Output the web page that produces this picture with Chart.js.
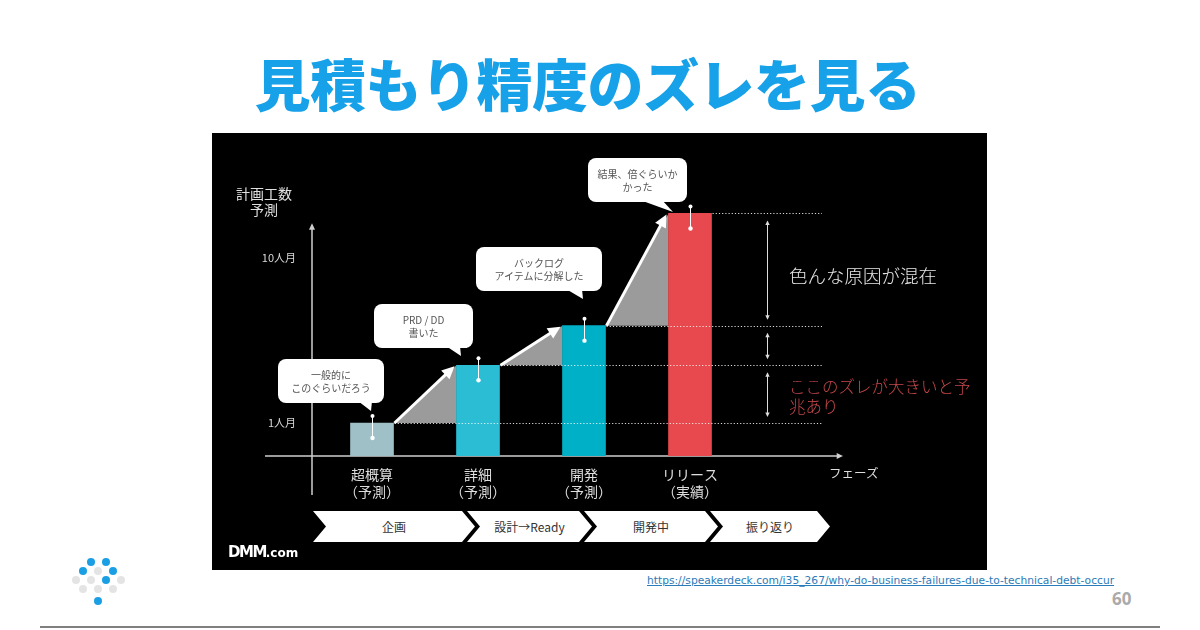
<!DOCTYPE html>
<html lang="ja">
<head>
<meta charset="utf-8">
<script src="https://cdn.jsdelivr.net/npm/chart.js@4.4.1/dist/chart.umd.min.js"></script>
<style>
  html, body { margin: 0; padding: 0; }
  body { width: 1200px; height: 630px; background: #ffffff; position: relative; overflow: hidden;
         font-family: "Noto Sans CJK JP", "Noto Sans", sans-serif; }
  #title { position: absolute; left: 0; width: 1175px; top: 44px; text-align: center;
           font-size: 56px; font-weight: 900; color: #17a1e8; letter-spacing: -0.5px; line-height: 76px; }
  #panel { position: absolute; left: 212px; top: 133px; width: 775px; height: 437px; background: #000; overflow: hidden; }
  #panel canvas { position: absolute; left: 0; top: 0; }
  #deco { position: absolute; left: 0; top: 0; }
  .txt { position: absolute; white-space: nowrap; }
  .bubble { position: absolute; display: flex; align-items: center; justify-content: center; text-align: center;
            font-size: 10px; line-height: 13px; color: #555; }
  .chev { position: absolute; top: 378px; height: 31px; background: #fff; display: flex; align-items: center; justify-content: center;
          font-size: 12px; color: #333; }
  #url { position: absolute; left: 647px; top: 574px; font-family: "DejaVu Sans", sans-serif; font-size: 10.7px; color: #2b7bb9; text-decoration: underline; }
  #page { position: absolute; left: 1112px; top: 587px; font-size: 17px; font-weight: 700; color: #aaaaaa; font-family: "Open Sans", sans-serif; }
  #rule { position: absolute; left: 40px; top: 626px; width: 1120px; height: 2px; background: #7f7f7f; }
  .dot { position: absolute; width: 8px; height: 8px; border-radius: 50%; }
</style>
</head>
<body>
<div id="title">見積もり精度のズレを見る</div>

<div id="panel">
  <canvas id="chart" width="775" height="437"></canvas>
  <svg id="deco" width="775" height="437"></svg>
  <div id="overlay"></div>
</div>

<div id="url">https://speakerdeck.com/i35_267/why-do-business-failures-due-to-technical-debt-occur</div>
<div id="page">60</div>
<div id="rule"></div>
<div id="logo"></div>

<script>
// ---------------- data ----------------
const categories = [["超概算", "（予測）"], ["詳細", "（予測）"], ["開発", "（予測）"], ["リリース", "（実績）"]];
const effortValues = [1.0, 2.75, 3.95, 7.35];          // 人月
const yTickValues = [1, 6];
const yTickLabels = ["1人月", "10人月"];
const yAxisTitle = ["計画工数", "予測"];
const xAxisTitle = "フェーズ";
const phases = ["企画", "設計→Ready", "開発中", "振り返り"];
const calloutTexts = [["一般的に", "このぐらいだろう"], ["PRD / DD", "書いた"], ["バックログ", "アイテムに分解した"], ["結果、倍ぐらいか", "かった"]];
const noteGap = "色んな原因が混在";
const noteWarn = ["ここのズレが大きいと予", "兆あり"];

// ---------------- styles ----------------
const barColors = ["#9fc0c7", "#2bbdd4", "#00b0c7", "#e8494e"];
const FONT = '"Noto Sans CJK JP", "Noto Sans", sans-serif';

function arrowHead(ctx, x1, y1, x2, y2, size) {
  const a = Math.atan2(y2 - y1, x2 - x1);
  ctx.beginPath();
  ctx.moveTo(x2, y2);
  ctx.lineTo(x2 - size * Math.cos(a - 0.45), y2 - size * Math.sin(a - 0.45));
  ctx.lineTo(x2 - size * Math.cos(a + 0.45), y2 - size * Math.sin(a + 0.45));
  ctx.closePath();
  ctx.fill();
}

const decoPlugin = {
  id: 'deco',
  beforeDatasetsDraw(chart) {
    const ctx = chart.ctx, ca = chart.chartArea, meta = chart.getDatasetMeta(0);
    ctx.save();
    // axes
    ctx.strokeStyle = '#cfcfcf'; ctx.fillStyle = '#cfcfcf'; ctx.lineWidth = 1.5;
    const ax = ca.left - 7;
    const yTop = chart.scales.y.getPixelForValue(7.05);
    ctx.beginPath(); ctx.moveTo(ax, ca.bottom + 39); ctx.lineTo(ax, yTop + 5); ctx.stroke();
    arrowHead(ctx, ax, ca.bottom, ax, yTop, 7);
    ctx.beginPath(); ctx.moveTo(ca.left - 54, ca.bottom); ctx.lineTo(ca.right + 94, ca.bottom); ctx.stroke();
    arrowHead(ctx, ca.left, ca.bottom, ca.right + 100, ca.bottom, 7);
    // gray step triangles
    ctx.fillStyle = '#9b9b9b';
    for (let i = 0; i < meta.data.length - 1; i++) {
      const a = meta.data[i], b = meta.data[i + 1];
      const ar = a.x + a.width / 2, bl = b.x - b.width / 2;
      ctx.beginPath();
      ctx.moveTo(ar, a.y); ctx.lineTo(bl, b.y); ctx.lineTo(bl, a.y); ctx.closePath(); ctx.fill();
    }
    ctx.restore();
  },
  afterDatasetsDraw(chart) {
    const ctx = chart.ctx, ca = chart.chartArea, meta = chart.getDatasetMeta(0);
    ctx.save();
    // dotted level lines
    ctx.strokeStyle = 'rgba(255,255,255,0.85)'; ctx.lineWidth = 1; ctx.setLineDash([1.2, 2]);
    meta.data.forEach(b => {
      ctx.beginPath(); ctx.moveTo(b.x + b.width / 2 + 1, Math.round(b.y) + 0.5); ctx.lineTo(ca.right + 79, Math.round(b.y) + 0.5); ctx.stroke();
    });
    ctx.setLineDash([]);
    // white arrows along the steps
    ctx.strokeStyle = '#ffffff'; ctx.fillStyle = '#ffffff'; ctx.lineWidth = 3;
    for (let i = 0; i < meta.data.length - 1; i++) {
      const a = meta.data[i], b = meta.data[i + 1];
      const x1 = a.x + a.width / 2 + 1, y1 = a.y, x2 = b.x - b.width / 2 - 2, y2 = b.y + 1;
      const ang = Math.atan2(y2 - y1, x2 - x1);
      ctx.beginPath(); ctx.moveTo(x1, y1); ctx.lineTo(x2 - 9 * Math.cos(ang), y2 - 9 * Math.sin(ang)); ctx.stroke();
      arrowHead(ctx, x1, y1, x2, y2, 14);
    }
    // pins on each bar
    ctx.lineWidth = 1;
    meta.data.forEach(b => {
      const x = Math.round(b.x) + 0.5;
      ctx.beginPath(); ctx.moveTo(x, b.y - 7); ctx.lineTo(x, b.y + 15); ctx.stroke();
      ctx.beginPath(); ctx.arc(x, b.y - 7, 2, 0, Math.PI * 2); ctx.fill();
      ctx.beginPath(); ctx.arc(x, b.y + 15, 2.2, 0, Math.PI * 2); ctx.fill();
    });
    // double arrows on the right
    const rx = Math.round(ca.right + 24) + 0.5;
    const levels = meta.data.map(b => b.y).sort((p, q) => p - q);
    ctx.strokeStyle = '#dddddd'; ctx.fillStyle = '#dddddd'; ctx.lineWidth = 1;
    for (let i = 0; i < levels.length - 1; i++) {
      const t = levels[i] + 7, btm = levels[i + 1] - 6;
      ctx.beginPath(); ctx.moveTo(rx, t + 3); ctx.lineTo(rx, btm - 3); ctx.stroke();
      arrowHead(ctx, rx, btm, rx, t, 5);
      arrowHead(ctx, rx, t, rx, btm, 5);
    }
    ctx.restore();
  }
};

const chart = new Chart(document.getElementById('chart'), {
  type: 'bar',
  data: {
    labels: categories,
    datasets: [{ data: effortValues, backgroundColor: barColors, borderWidth: 0, barThickness: 43 }]
  },
  options: {
    responsive: false,
    maintainAspectRatio: false,
    devicePixelRatio: 1,
    animation: false,
    events: [],
    layout: { padding: { left: 47, right: 244, top: 59, bottom: 64 } },
    plugins: { legend: { display: false }, tooltip: { enabled: false } },
    scales: {
      x: {
        grid: { display: false, drawTicks: false },
        border: { display: false },
        ticks: { color: '#dedede', padding: 10, font: { family: FONT, size: 14, lineHeight: 1.2 }, maxRotation: 0, autoSkip: false },
        afterFit(s) { s.height = 50; }
      },
      y: {
        min: 0, max: 8,
        grid: { display: false, drawTicks: false },
        border: { display: false },
        afterBuildTicks(s) { s.ticks = yTickValues.map(v => ({ value: v })); },
        ticks: {
          color: '#d8d8d8', padding: 23, font: { family: FONT, size: 11 },
          callback(v) { const i = yTickValues.indexOf(v); return i >= 0 ? yTickLabels[i] : ''; }
        },
        afterFit(s) { s.width = 60; }
      }
    }
  },
  plugins: [decoPlugin]
});

// ---------------- overlay: callouts, notes, phases ----------------
const svgNS = 'http://www.w3.org/2000/svg';
const deco = document.getElementById('deco');
const overlay = document.getElementById('overlay');
const bubbles = [
  { box: [66, 226, 106, 44], tail: [[146, 268], [160, 268], [159, 278]] },
  { box: [162, 171, 99, 44], tail: [[234, 213], [248, 213], [249, 223]] },
  { box: [264, 114, 126, 44], tail: [[354, 156], [370, 156], [371, 166]] },
  { box: [376, 25, 99, 44], tail: [[428, 67], [450, 67], [461, 79]] }
];
bubbles.forEach((b, i) => {
  const r = document.createElementNS(svgNS, 'rect');
  r.setAttribute('x', b.box[0]); r.setAttribute('y', b.box[1]);
  r.setAttribute('width', b.box[2]); r.setAttribute('height', b.box[3]);
  r.setAttribute('rx', 8); r.setAttribute('fill', '#ffffff');
  deco.appendChild(r);
  const p = document.createElementNS(svgNS, 'polygon');
  p.setAttribute('points', b.tail.map(q => q.join(',')).join(' '));
  p.setAttribute('fill', '#ffffff');
  deco.appendChild(p);
  const d = document.createElement('div');
  d.className = 'bubble';
  d.style.left = b.box[0] + 'px'; d.style.top = b.box[1] + 'px';
  d.style.width = b.box[2] + 'px'; d.style.height = b.box[3] + 'px';
  d.innerHTML = calloutTexts[i].join('<br>');
  overlay.appendChild(d);
});

function addText(html, css) {
  const d = document.createElement('div');
  d.className = 'txt';
  d.innerHTML = html;
  Object.assign(d.style, css);
  overlay.appendChild(d);
  return d;
}
addText(yAxisTitle.join('<br>'), { left: '22px', top: '52px', width: '60px', textAlign: 'center', fontSize: '14px', lineHeight: '16px', color: '#e0e0e0' });
addText(xAxisTitle, { left: '617px', top: '331px', fontSize: '12.5px', lineHeight: '18px', color: '#dddddd' });
addText(noteGap, { left: '577px', top: '129px', fontSize: '18.5px', lineHeight: '26px', color: '#e6e6e6', fontWeight: '300' });
addText(noteWarn.join('<br>'), { left: '577px', top: '243px', fontSize: '16.5px', lineHeight: '20px', color: '#c4474b', fontWeight: '300' });
addText('<span style="font-family:\'DejaVu Sans\';font-weight:900;font-size:15px;letter-spacing:-1.5px;">DMM</span><span style="font-family:\'DejaVu Sans\';font-weight:700;font-size:12px;">.com</span>',
        { left: '16px', top: '407px', lineHeight: '20px', color: '#ffffff' });

const chevrons = [[101, 162], [255, 125], [372, 134], [498, 120]];
phases.forEach((t, i) => {
  const d = document.createElement('div');
  d.className = 'chev';
  d.style.left = chevrons[i][0] + 'px';
  d.style.width = chevrons[i][1] + 'px';
  d.style.clipPath = 'polygon(0 0, calc(100% - 13px) 0, 100% 50%, calc(100% - 13px) 100%, 0 100%, 13px 50%)';
  d.textContent = t;
  overlay.appendChild(d);
});

// ---------------- slide logo dots ----------------
const logo = document.getElementById('logo');
const dots = [
  [91, 562, 1], [106, 562, 1], [83, 571, 1], [98, 571, 0], [113, 571, 1],
  [76, 580, 0], [91, 580, 0], [106, 580, 1], [121, 580, 0],
  [83, 589, 0], [98, 589, 0], [113, 589, 0], [98, 601, 1]
];
dots.forEach(([x, y, blue]) => {
  const d = document.createElement('div');
  d.className = 'dot';
  d.style.left = (x - 4) + 'px'; d.style.top = (y - 4) + 'px';
  d.style.background = blue ? '#1a9fe5' : '#e4e4e4';
  logo.appendChild(d);
});
</script>
</body>
</html>
